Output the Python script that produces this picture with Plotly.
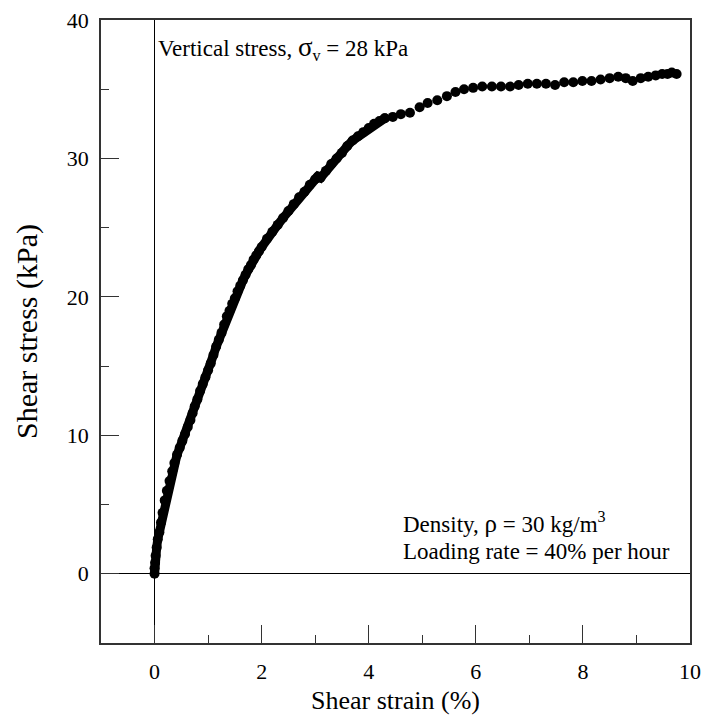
import plotly.graph_objects as go

strain = [0.00, 0.00, 0.01, 0.02, 0.04, 0.06, 0.09, 0.12, 0.15, 0.19, 0.23, 0.28, 0.33, 0.37,
          0.42, 0.47, 0.52, 0.57, 0.62, 0.67, 0.71, 0.75, 0.80, 0.85, 0.90, 0.95, 1.00,
          1.05, 1.10, 1.15, 1.20, 1.25, 1.30, 1.35, 1.40, 1.45, 1.50, 1.55, 1.60, 1.65, 1.70,
          1.75, 1.80, 1.85, 1.90, 1.95, 2.00, 2.10, 2.20, 2.30, 2.40, 2.50, 2.60, 2.70, 2.80,
          2.90, 3.00, 3.05, 3.10, 3.20, 3.30, 3.40, 3.50, 3.60, 3.70, 3.80, 3.90, 4.00, 4.10,
          4.20, 4.30, 4.45, 4.60, 4.77, 4.95, 5.10, 5.28, 5.46, 5.62, 5.78, 5.95, 6.12, 6.30,
          6.47, 6.64, 6.80, 6.97, 7.14, 7.31, 7.48, 7.65, 7.82, 7.99, 8.16, 8.33, 8.50, 8.66,
          8.80, 8.93, 9.08, 9.22, 9.36, 9.48, 9.58, 9.66, 9.75]
stress = [0.0, 0.4, 0.8, 1.3, 1.9, 2.5, 3.0, 3.7, 4.4, 5.3, 6.0, 6.7, 7.4, 8.0,
          8.6, 9.1, 9.6, 10.1, 10.6, 11.1, 11.6, 12.1, 12.6, 13.2, 13.7, 14.2, 14.7,
          15.2, 15.8, 16.4, 16.9, 17.4, 18.0, 18.6, 19.0, 19.5, 19.9, 20.4, 20.8, 21.2, 21.6,
          22.0, 22.3, 22.7, 23.0, 23.3, 23.6, 24.2, 24.7, 25.2, 25.7, 26.2, 26.7, 27.2, 27.6,
          28.1, 28.5, 28.7, 28.6, 29.1, 29.6, 30.0, 30.4, 30.9, 31.3, 31.6, 31.9, 32.2, 32.5,
          32.7, 32.9, 33.0, 33.2, 33.3, 33.7, 34.0, 34.2, 34.5, 34.8, 35.0, 35.1, 35.2, 35.2,
          35.2, 35.2, 35.3, 35.4, 35.4, 35.4, 35.3, 35.5, 35.5, 35.6, 35.6, 35.7, 35.8, 35.9,
          35.8, 35.6, 35.8, 35.9, 36.0, 36.1, 36.1, 36.2, 36.1]

x_ticks = [0, 2, 4, 6, 8, 10]
y_ticks = [0, 10, 20, 30, 40]

FONT = "Liberation Serif"

# dense early readings merge into a continuous thick band; later readings are separate dots
dense = [i for i, s in enumerate(strain) if s <= 4.3]
sparse = [i for i, s in enumerate(strain) if s >= 4.3]

fig = go.Figure()
fig.add_trace(go.Scatter(
    x=[strain[i] for i in dense], y=[stress[i] for i in dense], mode="lines+markers",
    line=dict(color="black", width=9),
    marker=dict(size=10, color="black", line=dict(width=0)),
    showlegend=False, hoverinfo="skip"))
fig.add_trace(go.Scatter(
    x=[strain[i] for i in sparse], y=[stress[i] for i in sparse], mode="markers",
    marker=dict(size=10, color="black", line=dict(width=0)),
    showlegend=False, hoverinfo="skip"))

axis_common = dict(
    showgrid=False, showline=True, linecolor="#333", linewidth=1.5, mirror=True,
    ticks="inside", ticklen=18, tickwidth=1.2, tickcolor="#333",
    zeroline=True, zerolinecolor="black", zerolinewidth=1,
    tickfont=dict(family=FONT, size=22, color="black"),
    automargin=False, ticklabeloverflow="allow",
)

fig.update_xaxes(
    range=[-1, 10], tickvals=x_ticks, ticklabelstandoff=8,
    minor=dict(ticks="inside", ticklen=8, dtick=1, tick0=0, tickcolor="#333", tickwidth=1.2),
    title=dict(text="Shear strain (%)", font=dict(family=FONT, size=26, color="black"), standoff=8),
    **axis_common)
fig.update_yaxes(
    range=[-5, 40], tickvals=y_ticks, ticklabelstandoff=6,
    minor=dict(ticks="inside", ticklen=8, dtick=5, tick0=0, tickcolor="#333", tickwidth=1.2),
    title=dict(text="Shear stress (kPa)", font=dict(family=FONT, size=30, color="black"), standoff=20),
    **axis_common)

ann_font = dict(family=FONT, size=23, color="black")
fig.add_annotation(x=0.03, y=38.0, xref="x", yref="y", xanchor="left", yanchor="middle",
                   text="Vertical stress, <span style='font-size:27px'>σ</span><sub>v</sub> = 28 kPa",
                   showarrow=False, font=ann_font)
fig.add_annotation(x=4.6, y=3.7, xref="x", yref="y", xanchor="left", yanchor="middle",
                   text="Density, <span style='font-size:25px'>ρ</span> = 30 kg/m<sup>3</sup>",
                   showarrow=False, font=ann_font)
fig.add_annotation(x=4.6, y=1.6, xref="x", yref="y", xanchor="left", yanchor="middle",
                   text="Loading rate = 40% per hour",
                   showarrow=False, font=ann_font)

fig.update_layout(
    width=704, height=721,
    margin=dict(l=101, r=14, t=20, b=78),
    paper_bgcolor="white", plot_bgcolor="white",
)

# remove the browser's default page margin so the 704x721 figure fills the window exactly
fig.write_html("out.html", config={"displayModeBar": False},
               post_script="document.body.style.margin='0';document.body.style.overflow='hidden';")
